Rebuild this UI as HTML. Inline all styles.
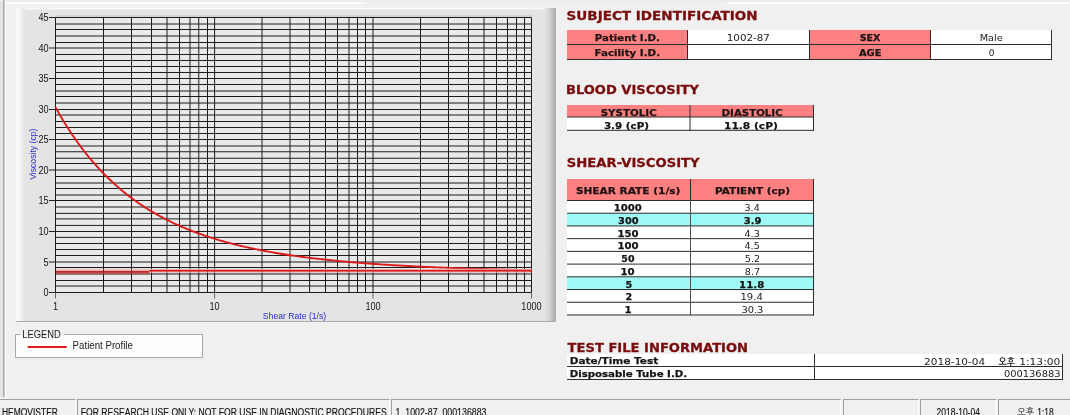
<!DOCTYPE html>
<html><head><meta charset="utf-8"><title>Hemovister</title><style>
html,body{margin:0;padding:0;width:1070px;height:415px;overflow:hidden;background:#f0f0f0}
svg{display:block}
.tl{font-family:"Liberation Sans",Arial,sans-serif;font-size:10.5px;fill:#151515}
.al{font-family:"Liberation Sans",Arial,sans-serif;font-size:9.6px;fill:#2b2bd0}
.lg{font-family:"Liberation Sans",Arial,sans-serif;fill:#1a1a1a}
.hd{font-family:"DejaVu Sans",Verdana,sans-serif;font-weight:bold;font-size:13px;fill:#780c0c;stroke:#780c0c;stroke-width:0.3px}
.bp{font-family:"DejaVu Sans",Verdana,sans-serif;font-weight:bold;font-size:9.5px;fill:#1e1212;stroke:#1e1212;stroke-width:0.25px}
.bk{font-family:"DejaVu Sans",Verdana,sans-serif;font-weight:bold;font-size:9.5px;fill:#141414;stroke:#141414;stroke-width:0.25px}
.rg{font-family:"DejaVu Sans",Verdana,sans-serif;font-size:9.5px;fill:#1c1c1c}
.kr{font-family:"Liberation Sans","NanumGothic","Noto Sans CJK KR",sans-serif;fill:#333}
.sb{font-family:"Liberation Sans","Noto Sans CJK KR",sans-serif;font-size:11px;fill:#111;stroke:#111;stroke-width:0.15px}
</style></head><body><svg width="1070" height="415" viewBox="0 0 1070 415"><rect x="0" y="0" width="1070" height="415" fill="#f0f0f0" /><rect x="0" y="0" width="1070" height="2" fill="#e9edf2" /><rect x="5" y="2" width="361" height="1.7" fill="#fcfdfe" /><rect x="727" y="2" width="343" height="1.7" fill="#fcfdfe" /><rect x="0" y="2" width="3" height="395" fill="#e3e3e3" /><rect x="3" y="0" width="1.8" height="397" fill="#adadad" /><rect x="4.8" y="0" width="1.2" height="397" fill="#fdfdfd" /><defs>
<linearGradient id="gl" x1="0" x2="1" y1="0" y2="0"><stop offset="0" stop-color="#fbfbfb"/><stop offset="0.5" stop-color="#f3f3f3"/><stop offset="1" stop-color="#e4e4e4"/></linearGradient>
<linearGradient id="gr" x1="0" x2="1" y1="0" y2="0"><stop offset="0" stop-color="#e4e4e4"/><stop offset="0.5" stop-color="#d2d2d2"/><stop offset="1" stop-color="#b0b0b0"/></linearGradient>
<linearGradient id="gt" x1="0" x2="0" y1="0" y2="1"><stop offset="0" stop-color="#fdfcfc"/><stop offset="1" stop-color="#e9e9e9"/></linearGradient>
<linearGradient id="gb" x1="0" x2="0" y1="0" y2="1"><stop offset="0" stop-color="#c8c8c8"/><stop offset="1" stop-color="#a8a8a8"/></linearGradient>
</defs><rect x="16" y="8" width="539" height="314" fill="#e4e4e4" /><rect x="16" y="8" width="539" height="2" fill="url(#gt)" /><rect x="16" y="8" width="9" height="313" fill="url(#gl)" /><rect x="545" y="8" width="9.5" height="313" fill="url(#gr)" /><rect x="554.5" y="8" width="1.2" height="313" fill="#929292" /><rect x="16" y="321" width="539.7" height="1" fill="#ababab" /><rect x="55.5" y="17.5" width="476.0" height="275.0" fill="#e9e9e9" /><rect x="55.0" y="15.3" width="477.0" height="1.5" fill="#cdcdcd" /><line x1="55.5" y1="17.5" x2="531.5" y2="17.5" stroke="#1c1c1c" stroke-width="1"/><line x1="55.5" y1="24.0" x2="531.5" y2="24.0" stroke="#1c1c1c" stroke-width="1"/><line x1="55.5" y1="29.5" x2="531.5" y2="29.5" stroke="#1c1c1c" stroke-width="1"/><line x1="55.5" y1="36.0" x2="531.5" y2="36.0" stroke="#1c1c1c" stroke-width="1"/><line x1="55.5" y1="42.5" x2="531.5" y2="42.5" stroke="#1c1c1c" stroke-width="1"/><line x1="55.5" y1="48.0" x2="531.5" y2="48.0" stroke="#1c1c1c" stroke-width="1"/><line x1="55.5" y1="54.5" x2="531.5" y2="54.5" stroke="#1c1c1c" stroke-width="1"/><line x1="55.5" y1="60.5" x2="531.5" y2="60.5" stroke="#1c1c1c" stroke-width="1"/><line x1="55.5" y1="66.5" x2="531.5" y2="66.5" stroke="#1c1c1c" stroke-width="1"/><line x1="55.5" y1="72.5" x2="531.5" y2="72.5" stroke="#1c1c1c" stroke-width="1"/><line x1="55.5" y1="78.5" x2="531.5" y2="78.5" stroke="#1c1c1c" stroke-width="1"/><line x1="55.5" y1="84.5" x2="531.5" y2="84.5" stroke="#1c1c1c" stroke-width="1"/><line x1="55.5" y1="91.0" x2="531.5" y2="91.0" stroke="#1c1c1c" stroke-width="1"/><line x1="55.5" y1="96.5" x2="531.5" y2="96.5" stroke="#1c1c1c" stroke-width="1"/><line x1="55.5" y1="103.0" x2="531.5" y2="103.0" stroke="#1c1c1c" stroke-width="1"/><line x1="55.5" y1="109.5" x2="531.5" y2="109.5" stroke="#1c1c1c" stroke-width="1"/><line x1="55.5" y1="115.0" x2="531.5" y2="115.0" stroke="#1c1c1c" stroke-width="1"/><line x1="55.5" y1="121.5" x2="531.5" y2="121.5" stroke="#1c1c1c" stroke-width="1"/><line x1="55.5" y1="127.5" x2="531.5" y2="127.5" stroke="#1c1c1c" stroke-width="1"/><line x1="55.5" y1="133.5" x2="531.5" y2="133.5" stroke="#1c1c1c" stroke-width="1"/><line x1="55.5" y1="139.5" x2="531.5" y2="139.5" stroke="#1c1c1c" stroke-width="1"/><line x1="55.5" y1="146.0" x2="531.5" y2="146.0" stroke="#1c1c1c" stroke-width="1"/><line x1="55.5" y1="151.75" x2="531.5" y2="151.75" stroke="#1c1c1c" stroke-width="1"/><line x1="55.5" y1="158.25" x2="531.5" y2="158.25" stroke="#1c1c1c" stroke-width="1"/><line x1="55.5" y1="163.5" x2="531.5" y2="163.5" stroke="#1c1c1c" stroke-width="1"/><line x1="55.5" y1="170.0" x2="531.5" y2="170.0" stroke="#1c1c1c" stroke-width="1"/><line x1="55.5" y1="176.5" x2="531.5" y2="176.5" stroke="#1c1c1c" stroke-width="1"/><line x1="55.5" y1="183.0" x2="531.5" y2="183.0" stroke="#1c1c1c" stroke-width="1"/><line x1="55.5" y1="188.5" x2="531.5" y2="188.5" stroke="#1c1c1c" stroke-width="1"/><line x1="55.5" y1="195.0" x2="531.5" y2="195.0" stroke="#1c1c1c" stroke-width="1"/><line x1="55.5" y1="200.5" x2="531.5" y2="200.5" stroke="#1c1c1c" stroke-width="1"/><line x1="55.5" y1="207.0" x2="531.5" y2="207.0" stroke="#1c1c1c" stroke-width="1"/><line x1="55.5" y1="213.4" x2="531.5" y2="213.4" stroke="#1c1c1c" stroke-width="1"/><line x1="55.5" y1="218.9" x2="531.5" y2="218.9" stroke="#1c1c1c" stroke-width="1"/><line x1="55.5" y1="225.4" x2="531.5" y2="225.4" stroke="#1c1c1c" stroke-width="1"/><line x1="55.5" y1="231.5" x2="531.5" y2="231.5" stroke="#1c1c1c" stroke-width="1"/><line x1="55.5" y1="237.4" x2="531.5" y2="237.4" stroke="#1c1c1c" stroke-width="1"/><line x1="55.5" y1="243.5" x2="531.5" y2="243.5" stroke="#1c1c1c" stroke-width="1"/><line x1="55.5" y1="249.5" x2="531.5" y2="249.5" stroke="#1c1c1c" stroke-width="1"/><line x1="55.5" y1="255.5" x2="531.5" y2="255.5" stroke="#1c1c1c" stroke-width="1"/><line x1="55.5" y1="262.0" x2="531.5" y2="262.0" stroke="#1c1c1c" stroke-width="1"/><line x1="55.5" y1="267.5" x2="531.5" y2="267.5" stroke="#1c1c1c" stroke-width="1"/><line x1="55.5" y1="274.0" x2="531.5" y2="274.0" stroke="#1c1c1c" stroke-width="1"/><line x1="55.5" y1="280.5" x2="531.5" y2="280.5" stroke="#1c1c1c" stroke-width="1"/><line x1="55.5" y1="286.0" x2="531.5" y2="286.0" stroke="#1c1c1c" stroke-width="1"/><line x1="55.5" y1="292.5" x2="531.5" y2="292.5" stroke="#1c1c1c" stroke-width="1"/><line x1="55.5" y1="17.5" x2="55.5" y2="292.5" stroke="#1c1c1c" stroke-width="1"/><line x1="103.5" y1="17.5" x2="103.5" y2="292.5" stroke="#1c1c1c" stroke-width="1"/><line x1="131.5" y1="17.5" x2="131.5" y2="292.5" stroke="#1c1c1c" stroke-width="1"/><line x1="151.5" y1="17.5" x2="151.5" y2="292.5" stroke="#1c1c1c" stroke-width="1"/><line x1="167.0" y1="17.5" x2="167.0" y2="292.5" stroke="#1c1c1c" stroke-width="1"/><line x1="179.5" y1="17.5" x2="179.5" y2="292.5" stroke="#1c1c1c" stroke-width="1"/><line x1="190.0" y1="17.5" x2="190.0" y2="292.5" stroke="#1c1c1c" stroke-width="1"/><line x1="198.75" y1="17.5" x2="198.75" y2="292.5" stroke="#1c1c1c" stroke-width="1"/><line x1="207.5" y1="17.5" x2="207.5" y2="292.5" stroke="#1c1c1c" stroke-width="1"/><line x1="214.6" y1="17.5" x2="214.6" y2="292.5" stroke="#1c1c1c" stroke-width="1"/><line x1="262.0" y1="17.5" x2="262.0" y2="292.5" stroke="#1c1c1c" stroke-width="1"/><line x1="290.0" y1="17.5" x2="290.0" y2="292.5" stroke="#1c1c1c" stroke-width="1"/><line x1="309.6" y1="17.5" x2="309.6" y2="292.5" stroke="#1c1c1c" stroke-width="1"/><line x1="325.5" y1="17.5" x2="325.5" y2="292.5" stroke="#1c1c1c" stroke-width="1"/><line x1="337.5" y1="17.5" x2="337.5" y2="292.5" stroke="#1c1c1c" stroke-width="1"/><line x1="349.0" y1="17.5" x2="349.0" y2="292.5" stroke="#1c1c1c" stroke-width="1"/><line x1="357.5" y1="17.5" x2="357.5" y2="292.5" stroke="#1c1c1c" stroke-width="1"/><line x1="365.5" y1="17.5" x2="365.5" y2="292.5" stroke="#1c1c1c" stroke-width="1"/><line x1="373.0" y1="17.5" x2="373.0" y2="292.5" stroke="#1c1c1c" stroke-width="1"/><line x1="420.5" y1="17.5" x2="420.5" y2="292.5" stroke="#1c1c1c" stroke-width="1"/><line x1="448.5" y1="17.5" x2="448.5" y2="292.5" stroke="#1c1c1c" stroke-width="1"/><line x1="468.5" y1="17.5" x2="468.5" y2="292.5" stroke="#1c1c1c" stroke-width="1"/><line x1="484.0" y1="17.5" x2="484.0" y2="292.5" stroke="#1c1c1c" stroke-width="1"/><line x1="496.5" y1="17.5" x2="496.5" y2="292.5" stroke="#1c1c1c" stroke-width="1"/><line x1="507.5" y1="17.5" x2="507.5" y2="292.5" stroke="#1c1c1c" stroke-width="1"/><line x1="516.5" y1="17.5" x2="516.5" y2="292.5" stroke="#1c1c1c" stroke-width="1"/><line x1="524.5" y1="17.5" x2="524.5" y2="292.5" stroke="#1c1c1c" stroke-width="1"/><line x1="531.5" y1="17.5" x2="531.5" y2="292.5" stroke="#1c1c1c" stroke-width="1"/><line x1="49" y1="292.5" x2="55.5" y2="292.5" stroke="#222" stroke-width="1"/><text transform="translate(48.6 296) scale(0.87 1)" text-anchor="end" class="tl">0</text><line x1="49" y1="262.0" x2="55.5" y2="262.0" stroke="#222" stroke-width="1"/><text transform="translate(48.6 266) scale(0.87 1)" text-anchor="end" class="tl">5</text><line x1="49" y1="231.5" x2="55.5" y2="231.5" stroke="#222" stroke-width="1"/><text transform="translate(48.6 235) scale(0.87 1)" text-anchor="end" class="tl">10</text><line x1="49" y1="200.5" x2="55.5" y2="200.5" stroke="#222" stroke-width="1"/><text transform="translate(48.6 204) scale(0.87 1)" text-anchor="end" class="tl">15</text><line x1="49" y1="170.0" x2="55.5" y2="170.0" stroke="#222" stroke-width="1"/><text transform="translate(48.6 174) scale(0.87 1)" text-anchor="end" class="tl">20</text><line x1="49" y1="139.5" x2="55.5" y2="139.5" stroke="#222" stroke-width="1"/><text transform="translate(48.6 143) scale(0.87 1)" text-anchor="end" class="tl">25</text><line x1="49" y1="109.5" x2="55.5" y2="109.5" stroke="#222" stroke-width="1"/><text transform="translate(48.6 113) scale(0.87 1)" text-anchor="end" class="tl">30</text><line x1="49" y1="78.5" x2="55.5" y2="78.5" stroke="#222" stroke-width="1"/><text transform="translate(48.6 82) scale(0.87 1)" text-anchor="end" class="tl">35</text><line x1="49" y1="48.0" x2="55.5" y2="48.0" stroke="#222" stroke-width="1"/><text transform="translate(48.6 52) scale(0.87 1)" text-anchor="end" class="tl">40</text><line x1="49" y1="17.5" x2="55.5" y2="17.5" stroke="#222" stroke-width="1"/><text transform="translate(48.6 21) scale(0.87 1)" text-anchor="end" class="tl">45</text><line x1="55.5" y1="293.0" x2="55.5" y2="298.5" stroke="#666" stroke-width="1"/><text transform="translate(55.50 309.7) scale(0.87 1)" text-anchor="middle" class="tl">1</text><line x1="214.6" y1="293.0" x2="214.6" y2="298.5" stroke="#666" stroke-width="1"/><text transform="translate(214.60 309.7) scale(0.87 1)" text-anchor="middle" class="tl">10</text><line x1="373.0" y1="293.0" x2="373.0" y2="298.5" stroke="#666" stroke-width="1"/><text transform="translate(373.00 309.7) scale(0.87 1)" text-anchor="middle" class="tl">100</text><line x1="531.5" y1="293.0" x2="531.5" y2="298.5" stroke="#666" stroke-width="1"/><text transform="translate(531.50 309.7) scale(0.87 1)" text-anchor="middle" class="tl">1000</text><polyline points="55.50,107.24 57.09,110.08 58.67,112.88 60.26,115.62 61.85,118.31 63.43,120.94 65.02,123.53 66.61,126.07 68.19,128.56 69.78,131.00 71.37,133.40 72.95,135.75 74.54,138.06 76.13,140.33 77.71,142.55 79.30,144.73 80.89,146.87 82.47,148.97 84.06,151.03 85.65,153.06 87.23,155.04 88.82,156.99 90.41,158.90 91.99,160.78 93.58,162.63 95.17,164.43 96.75,166.21 98.34,167.95 99.93,169.67 101.51,171.35 103.10,173.00 104.69,174.62 106.27,176.21 107.86,177.77 109.45,179.30 111.03,180.81 112.62,182.29 114.21,183.74 115.79,185.17 117.38,186.57 118.97,187.94 120.55,189.29 122.14,190.62 123.73,191.92 125.31,193.20 126.90,194.46 128.49,195.69 130.07,196.91 131.66,198.10 133.25,199.27 134.83,200.42 136.42,201.55 138.01,202.66 139.59,203.75 141.18,204.82 142.77,205.87 144.35,206.91 145.94,207.93 147.53,208.93 149.11,209.91 150.70,210.87 152.29,211.82 153.87,212.75 155.46,213.67 157.05,214.57 158.63,215.45 160.22,216.32 161.81,217.18 163.39,218.02 164.98,218.85 166.57,219.66 168.15,220.46 169.74,221.24 171.33,222.01 172.91,222.77 174.50,223.52 176.09,224.25 177.67,224.97 179.26,225.68 180.85,226.38 182.43,227.07 184.02,227.74 185.61,228.40 187.19,229.06 188.78,229.70 190.37,230.33 191.95,230.95 193.54,231.56 195.13,232.16 196.71,232.75 198.30,233.33 199.89,233.91 201.47,234.47 203.06,235.02 204.65,235.57 206.23,236.10 207.82,236.63 209.41,237.15 210.99,237.66 212.58,238.16 214.17,238.66 215.75,239.14 217.34,239.62 218.93,240.09 220.51,240.55 222.10,241.01 223.69,241.46 225.27,241.90 226.86,242.34 228.45,242.76 230.03,243.19 231.62,243.60 233.21,244.01 234.79,244.41 236.38,244.81 237.97,245.20 239.55,245.58 241.14,245.96 242.73,246.33 244.31,246.70 245.90,247.06 247.49,247.41 249.07,247.76 250.66,248.11 252.25,248.44 253.83,248.78 255.42,249.11 257.01,249.43 258.59,249.75 260.18,250.06 261.77,250.37 263.35,250.68 264.94,250.98 266.53,251.27 268.11,251.56 269.70,251.85 271.29,252.13 272.87,252.41 274.46,252.69 276.05,252.96 277.63,253.22 279.22,253.48 280.81,253.74 282.39,254.00 283.98,254.25 285.57,254.50 287.15,254.74 288.74,254.98 290.33,255.22 291.91,255.45 293.50,255.68 295.09,255.90 296.67,256.13 298.26,256.35 299.85,256.56 301.43,256.78 303.02,256.99 304.61,257.20 306.19,257.40 307.78,257.60 309.37,257.80 310.95,258.00 312.54,258.19 314.13,258.38 315.71,258.57 317.30,258.75 318.89,258.93 320.47,259.11 322.06,259.29 323.65,259.47 325.23,259.64 326.82,259.81 328.41,259.98 329.99,260.14 331.58,260.30 333.17,260.46 334.75,260.62 336.34,260.78 337.93,260.93 339.51,261.08 341.10,261.23 342.69,261.38 344.27,261.53 345.86,261.67 347.45,261.81 349.03,261.95 350.62,262.09 352.21,262.23 353.79,262.36 355.38,262.49 356.97,262.62 358.55,262.75 360.14,262.88 361.73,263.00 363.31,263.13 364.90,263.25 366.49,263.37 368.07,263.49 369.66,263.60 371.25,263.72 372.83,263.83 374.42,263.95 376.01,264.06 377.59,264.17 379.18,264.27 380.77,264.38 382.35,264.49 383.94,264.59 385.53,264.69 387.11,264.79 388.70,264.89 390.29,264.99 391.87,265.09 393.46,265.18 395.05,265.28 396.63,265.37 398.22,265.46 399.81,265.55 401.39,265.64 402.98,265.73 404.57,265.82 406.15,265.90 407.74,265.99 409.33,266.07 410.91,266.16 412.50,266.24 414.09,266.32 415.67,266.40 417.26,266.48 418.85,266.55 420.43,266.63 422.02,266.71 423.61,266.78 425.19,266.86 426.78,266.93 428.37,267.00 429.95,267.07 431.54,267.14 433.13,267.21 434.71,267.28 436.30,267.34 437.89,267.41 439.47,267.48 441.06,267.54 442.65,267.61 444.23,267.67 445.82,267.73 447.41,267.79 448.99,267.85 450.58,267.91 452.17,267.97 453.75,268.03 455.34,268.09 456.93,268.15 458.51,268.20 460.10,268.26 461.69,268.31 463.27,268.37 464.86,268.42 466.45,268.47 468.03,268.52 469.62,268.58 471.21,268.63 472.79,268.68 474.38,268.73 475.97,268.78 477.55,268.82 479.14,268.87 480.73,268.92 482.31,268.97 483.90,269.01 485.49,269.06 487.07,269.10 488.66,269.15 490.25,269.19 491.83,269.23 493.42,269.28 495.01,269.32 496.59,269.36 498.18,269.40 499.77,269.44 501.35,269.48 502.94,269.52 504.53,269.56 506.11,269.60 507.70,269.64 509.29,269.68 510.87,269.71 512.46,269.75 514.05,269.79 515.63,269.82 517.22,269.86 518.81,269.89 520.39,269.93 521.98,269.96 523.57,270.00 525.15,270.03 526.74,270.06 528.33,270.09 529.91,270.13 531.50,270.16" fill="none" stroke="#d81c1c" stroke-width="1.9"/><rect x="56.0" y="268.6" width="93.30000000000001" height="2.2" fill="#ff8080" fill-opacity="0.3"/><rect x="56.0" y="270.8" width="93.30000000000001" height="2.1" fill="#b00c0c" fill-opacity="0.85"/><rect x="56.0" y="272.9" width="93.30000000000001" height="1.7" fill="#d84040" fill-opacity="0.5"/><rect x="149.3" y="268.8" width="382.2" height="1.0" fill="#f6dada" /><line x1="149.3" y1="270.8" x2="531.5" y2="270.8" stroke="#dc1818" stroke-width="2.0"/><rect x="149.3" y="271.8" width="382.2" height="0.8" fill="#f0b4b4" /><text transform="translate(294.5 319) scale(0.9 1)" text-anchor="middle" class="al">Shear Rate (1/s)</text><text transform="translate(36.2 154.2) rotate(-90) scale(0.9 1)" text-anchor="middle" class="al">Viscosity (cp)</text><rect x="15.5" y="334.5" width="187" height="23" fill="#fdfdfd" stroke="#a8a8a8" stroke-width="1"/><rect x="20" y="328" width="44" height="8" fill="#f0f0f0" /><text transform="translate(22.3 337.8) scale(0.8 1)" class="lg" style="font-size:11.7px">LEGEND</text><rect x="27.7" y="346" width="39" height="2" fill="#e01818" /><text transform="translate(72.6 348.6) scale(0.88 1)" class="lg" style="font-size:11px">Patient Profile</text><rect x="567" y="30" width="120" height="29" fill="#ff8080" /><rect x="688" y="30" width="121" height="29" fill="#ffffff" /><rect x="810" y="30" width="120" height="29" fill="#ff8080" /><rect x="931" y="30" width="120" height="29" fill="#ffffff" /><line x1="567" y1="44.5" x2="1052" y2="44.5" stroke="#2b2b2b" stroke-width="1"/><line x1="567" y1="59.5" x2="1052" y2="59.5" stroke="#2b2b2b" stroke-width="1"/><line x1="687.5" y1="30" x2="687.5" y2="60" stroke="#2b2b2b" stroke-width="1"/><line x1="809.5" y1="30" x2="809.5" y2="60" stroke="#2b2b2b" stroke-width="1"/><line x1="930.5" y1="30" x2="930.5" y2="60" stroke="#2b2b2b" stroke-width="1"/><line x1="1051.5" y1="30" x2="1051.5" y2="60" stroke="#2b2b2b" stroke-width="1"/><rect x="567" y="105" width="246" height="12" fill="#ff8080" /><rect x="567" y="117" width="246" height="13" fill="#ffffff" /><line x1="567" y1="117" x2="814" y2="117" stroke="#2b2b2b" stroke-width="1"/><line x1="567" y1="130.3" x2="814" y2="130.3" stroke="#2b2b2b" stroke-width="1"/><line x1="690" y1="105" x2="690" y2="131" stroke="#2b2b2b" stroke-width="1"/><line x1="813.5" y1="105" x2="813.5" y2="131" stroke="#2b2b2b" stroke-width="1"/><rect x="567" y="179" width="246" height="21" fill="#ff8080" /><rect x="567" y="200" width="246" height="115" fill="#ffffff" /><rect x="567" y="213.22" width="246" height="12.72" fill="#9ffaf6" /><rect x="567" y="276.82" width="246" height="12.72" fill="#9ffaf6" /><line x1="567" y1="200.5" x2="814" y2="200.5" stroke="#2b2b2b" stroke-width="1"/><line x1="567" y1="213.22" x2="814" y2="213.22" stroke="#2b2b2b" stroke-width="1"/><line x1="567" y1="225.94" x2="814" y2="225.94" stroke="#2b2b2b" stroke-width="1"/><line x1="567" y1="238.66" x2="814" y2="238.66" stroke="#2b2b2b" stroke-width="1"/><line x1="567" y1="251.38" x2="814" y2="251.38" stroke="#2b2b2b" stroke-width="1"/><line x1="567" y1="264.1" x2="814" y2="264.1" stroke="#2b2b2b" stroke-width="1"/><line x1="567" y1="276.82" x2="814" y2="276.82" stroke="#2b2b2b" stroke-width="1"/><line x1="567" y1="289.54" x2="814" y2="289.54" stroke="#2b2b2b" stroke-width="1"/><line x1="567" y1="302.26" x2="814" y2="302.26" stroke="#2b2b2b" stroke-width="1"/><line x1="567" y1="314.98" x2="814" y2="314.98" stroke="#2b2b2b" stroke-width="1"/><line x1="690.5" y1="179" x2="690.5" y2="200" stroke="#2b2b2b" stroke-width="1"/><line x1="690.5" y1="200" x2="690.5" y2="315.5" stroke="#505050" stroke-width="1"/><line x1="813.5" y1="179" x2="813.5" y2="315.5" stroke="#2b2b2b" stroke-width="1"/><rect x="567" y="354" width="496" height="25" fill="#ffffff" /><line x1="567" y1="366.5" x2="1063" y2="366.5" stroke="#2b2b2b" stroke-width="1"/><line x1="567" y1="379.5" x2="1063" y2="379.5" stroke="#2b2b2b" stroke-width="1"/><line x1="814.5" y1="354" x2="814.5" y2="380" stroke="#2b2b2b" stroke-width="1"/><line x1="1062.5" y1="354" x2="1062.5" y2="380" stroke="#2b2b2b" stroke-width="1"/><text x="998.5" y="364.5" class="kr" textLength="16.3" lengthAdjust="spacingAndGlyphs" style="font-size:9.5px;font-weight:bold;fill:#1c1c1c">오후</text><rect x="0" y="399" width="1070" height="16" fill="#f0f0f0" /><line x1="-2" y1="399.5" x2="75.6" y2="399.5" stroke="#a0a0a0" stroke-width="1"/><line x1="-1.5" y1="399" x2="-1.5" y2="415" stroke="#a0a0a0" stroke-width="1"/><line x1="75.5" y1="400" x2="75.5" y2="415" stroke="#ffffff" stroke-width="1"/><line x1="77" y1="399.5" x2="389.6" y2="399.5" stroke="#a0a0a0" stroke-width="1"/><line x1="77.5" y1="399" x2="77.5" y2="415" stroke="#a0a0a0" stroke-width="1"/><line x1="389.5" y1="400" x2="389.5" y2="415" stroke="#ffffff" stroke-width="1"/><line x1="391" y1="399.5" x2="840.6" y2="399.5" stroke="#a0a0a0" stroke-width="1"/><line x1="391.5" y1="399" x2="391.5" y2="415" stroke="#a0a0a0" stroke-width="1"/><line x1="840.5" y1="400" x2="840.5" y2="415" stroke="#ffffff" stroke-width="1"/><line x1="843" y1="399.5" x2="918.6" y2="399.5" stroke="#a0a0a0" stroke-width="1"/><line x1="843.5" y1="399" x2="843.5" y2="415" stroke="#a0a0a0" stroke-width="1"/><line x1="918.5" y1="400" x2="918.5" y2="415" stroke="#ffffff" stroke-width="1"/><line x1="920" y1="399.5" x2="996.6" y2="399.5" stroke="#a0a0a0" stroke-width="1"/><line x1="920.5" y1="399" x2="920.5" y2="415" stroke="#a0a0a0" stroke-width="1"/><line x1="996.5" y1="400" x2="996.5" y2="415" stroke="#ffffff" stroke-width="1"/><line x1="998" y1="399.5" x2="1071.6" y2="399.5" stroke="#a0a0a0" stroke-width="1"/><line x1="998.5" y1="399" x2="998.5" y2="415" stroke="#a0a0a0" stroke-width="1"/><line x1="1071.5" y1="400" x2="1071.5" y2="415" stroke="#ffffff" stroke-width="1"/><text transform="translate(2 416) scale(0.77 1)" class="sb">HEMOVISTER</text><text transform="translate(80.8 416) scale(0.781 1)" class="sb">FOR RESEARCH USE ONLY: NOT FOR USE IN DIAGNOSTIC PROCEDURES</text><text transform="translate(395.5 416) scale(0.8 1)" class="sb" xml:space="preserve">1  1002-87  000136883</text><text transform="translate(936.6 416) scale(0.77 1)" class="sb">2018-10-04</text><text x="1017.3" y="414.5" class="kr" style="font-size:9px;fill:#111">오후</text><text transform="translate(1037.3 416) scale(0.77 1)" class="sb">1:18</text><text x="566.60" y="20" class="hd" textLength="191.12" lengthAdjust="spacingAndGlyphs">SUBJECT IDENTIFICATION</text><text x="566.00" y="94" class="hd" textLength="132.91" lengthAdjust="spacingAndGlyphs">BLOOD VISCOSITY</text><text x="566.80" y="167" class="hd" textLength="132.81" lengthAdjust="spacingAndGlyphs">SHEAR-VISCOSITY</text><text x="567.60" y="352" class="hd" textLength="180.49" lengthAdjust="spacingAndGlyphs">TEST FILE INFORMATION</text><text x="594.80" y="41" class="bp" textLength="65.05" lengthAdjust="spacingAndGlyphs">Patient I.D.</text><text x="594.60" y="56" class="bp" textLength="65.46" lengthAdjust="spacingAndGlyphs">Facility I.D.</text><text x="859.70" y="41" class="bp" textLength="20.72" lengthAdjust="spacingAndGlyphs">SEX</text><text x="858.90" y="56" class="bp" textLength="22.61" lengthAdjust="spacingAndGlyphs">AGE</text><text x="726.81" y="41" class="rg" textLength="43.13" lengthAdjust="spacingAndGlyphs">1002-87</text><text x="979.70" y="41" class="rg" textLength="23.14" lengthAdjust="spacingAndGlyphs">Male</text><text x="988.70" y="56" class="rg" textLength="5.74" lengthAdjust="spacingAndGlyphs">0</text><text x="600.70" y="116" class="bp" textLength="56.07" lengthAdjust="spacingAndGlyphs">SYSTOLIC</text><text x="721.60" y="116" class="bp" textLength="61.07" lengthAdjust="spacingAndGlyphs">DIASTOLIC</text><text x="603.90" y="129" class="bk" textLength="45.17" lengthAdjust="spacingAndGlyphs">3.9 (cP)</text><text x="723.98" y="129" class="bk" textLength="53.91" lengthAdjust="spacingAndGlyphs">11.8 (cP)</text><text x="575.90" y="194" class="bp" textLength="104.48" lengthAdjust="spacingAndGlyphs">SHEAR RATE (1/s)</text><text x="715.10" y="194" class="bp" textLength="74.98" lengthAdjust="spacingAndGlyphs">PATIENT (cp)</text><text x="613.84" y="211" class="bk" textLength="27.94" lengthAdjust="spacingAndGlyphs">1000</text><text x="618.10" y="224" class="bk" textLength="20.50" lengthAdjust="spacingAndGlyphs">300</text><text x="617.43" y="237" class="bk" textLength="21.15" lengthAdjust="spacingAndGlyphs">150</text><text x="617.43" y="249" class="bk" textLength="21.15" lengthAdjust="spacingAndGlyphs">100</text><text x="621.30" y="262" class="bk" textLength="13.21" lengthAdjust="spacingAndGlyphs">50</text><text x="620.43" y="275" class="bk" textLength="14.15" lengthAdjust="spacingAndGlyphs">10</text><text x="625.40" y="288" class="bk" textLength="6.72" lengthAdjust="spacingAndGlyphs">5</text><text x="625.40" y="300" class="bk" textLength="6.72" lengthAdjust="spacingAndGlyphs">2</text><text x="624.62" y="313" class="bk" textLength="7.14" lengthAdjust="spacingAndGlyphs">1</text><text x="744.50" y="211" class="rg" textLength="15.24" lengthAdjust="spacingAndGlyphs">3.4</text><text x="743.70" y="224" class="bk" textLength="17.74" lengthAdjust="spacingAndGlyphs">3.9</text><text x="744.50" y="237" class="rg" textLength="15.24" lengthAdjust="spacingAndGlyphs">4.3</text><text x="744.50" y="249" class="rg" textLength="15.24" lengthAdjust="spacingAndGlyphs">4.5</text><text x="744.80" y="262" class="rg" textLength="15.24" lengthAdjust="spacingAndGlyphs">5.2</text><text x="744.80" y="275" class="rg" textLength="15.24" lengthAdjust="spacingAndGlyphs">8.7</text><text x="739.12" y="288" class="bk" textLength="25.26" lengthAdjust="spacingAndGlyphs">11.8</text><text x="740.44" y="300" class="rg" textLength="22.41" lengthAdjust="spacingAndGlyphs">19.4</text><text x="741.50" y="313" class="rg" textLength="21.85" lengthAdjust="spacingAndGlyphs">30.3</text><text x="569.70" y="364" class="bk" textLength="88.49" lengthAdjust="spacingAndGlyphs">Date/Time Test</text><text x="569.70" y="377" class="bk" textLength="117.45" lengthAdjust="spacingAndGlyphs">Disposable Tube I.D.</text><text x="924.10" y="365" class="rg" textLength="61.15" lengthAdjust="spacingAndGlyphs">2018-10-04</text><text x="1019.18" y="365" class="rg" textLength="41.17" lengthAdjust="spacingAndGlyphs">1:13:00</text><text x="1003.90" y="377" class="rg" textLength="56.65" lengthAdjust="spacingAndGlyphs">000136883</text></svg></body></html>
